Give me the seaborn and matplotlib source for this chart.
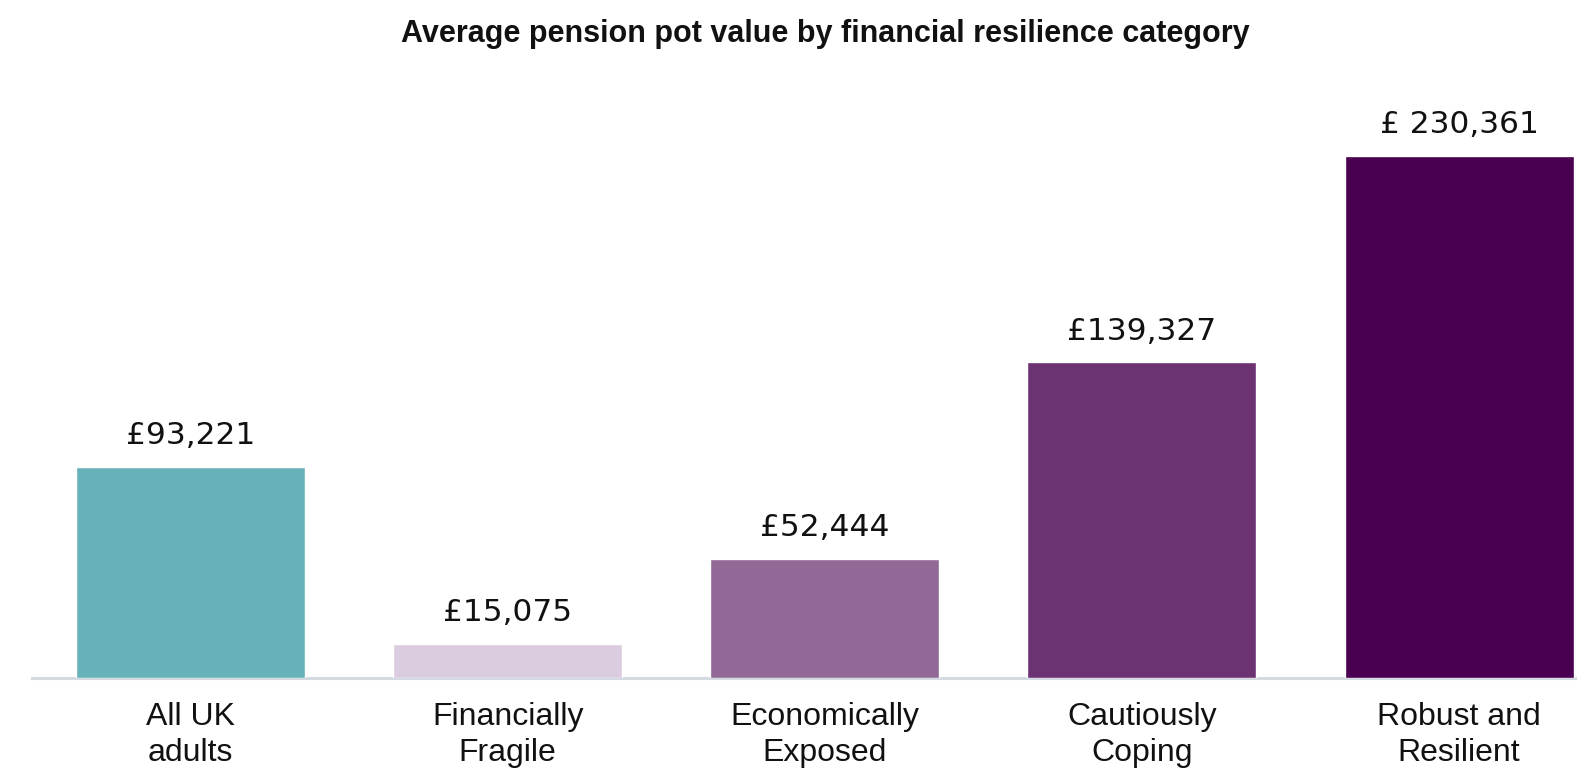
import matplotlib
matplotlib.use("Agg")
import matplotlib.pyplot as plt
import seaborn as sns
import pandas as pd

# 数据
categories = ["All UK\nadults", "Financially\nFragile", "Economically\nExposed",
              "Cautiously\nCoping", "Robust and\nResilient"]
values = [93221, 15075, 52444, 139327, 230361]
value_labels = ["£93,221", "£15,075", "£52,444", "£139,327", "£ 230,361"]
colors = ["#67B2B8", "#DCCCE0", "#916896", "#6C3272", "#4A0050"]
title = "Average pension pot value by financial resilience category"

sns.set_theme(style="white")
plt.rcParams["font.family"] = ["Liberation Sans", "DejaVu Sans"]

df = pd.DataFrame({"category": categories, "value": values})

fig = plt.figure(figsize=(15.77, 7.73), dpi=100)
W, H = 1577, 773
# 坐标轴区域：左 32px，底 678px，顶 100px
ax = fig.add_axes([32 / W, (H - 678) / H, (W - 32) / W, (678 - 100) / H])

sns.barplot(data=df, x="category", y="value", hue="category", palette=colors,
            width=0.722, legend=False, saturation=1, ax=ax)

ax.set_xlim(-0.5, 4.372)
ax.set_ylim(0, 255000)
ax.set_xlabel("")
ax.set_ylabel("")
ax.set_yticks([])
for s in ["top", "right", "left"]:
    ax.spines[s].set_visible(False)
ax.spines["bottom"].set_color("#D3DAE2")
ax.spines["bottom"].set_linewidth(2.2)
ax.spines["bottom"].set_zorder(0)
ax.tick_params(axis="x", length=0, pad=17, labelsize=23, labelcolor="#111111")
for lbl in ax.get_xticklabels():
    lbl.set_linespacing(1.27)

# 数值标签
for cont, lab in zip(ax.containers, value_labels):
    ax.bar_label(cont, labels=[lab], padding=12, fontsize=22.5,
                 color="#111111", family=["DejaVu Sans"])

fig.text(825 / W, 1 - 34 / H, title, ha="center", va="center",
         fontsize=22, fontweight="bold", color="#111111")

fig.savefig("out.png", dpi=100)
